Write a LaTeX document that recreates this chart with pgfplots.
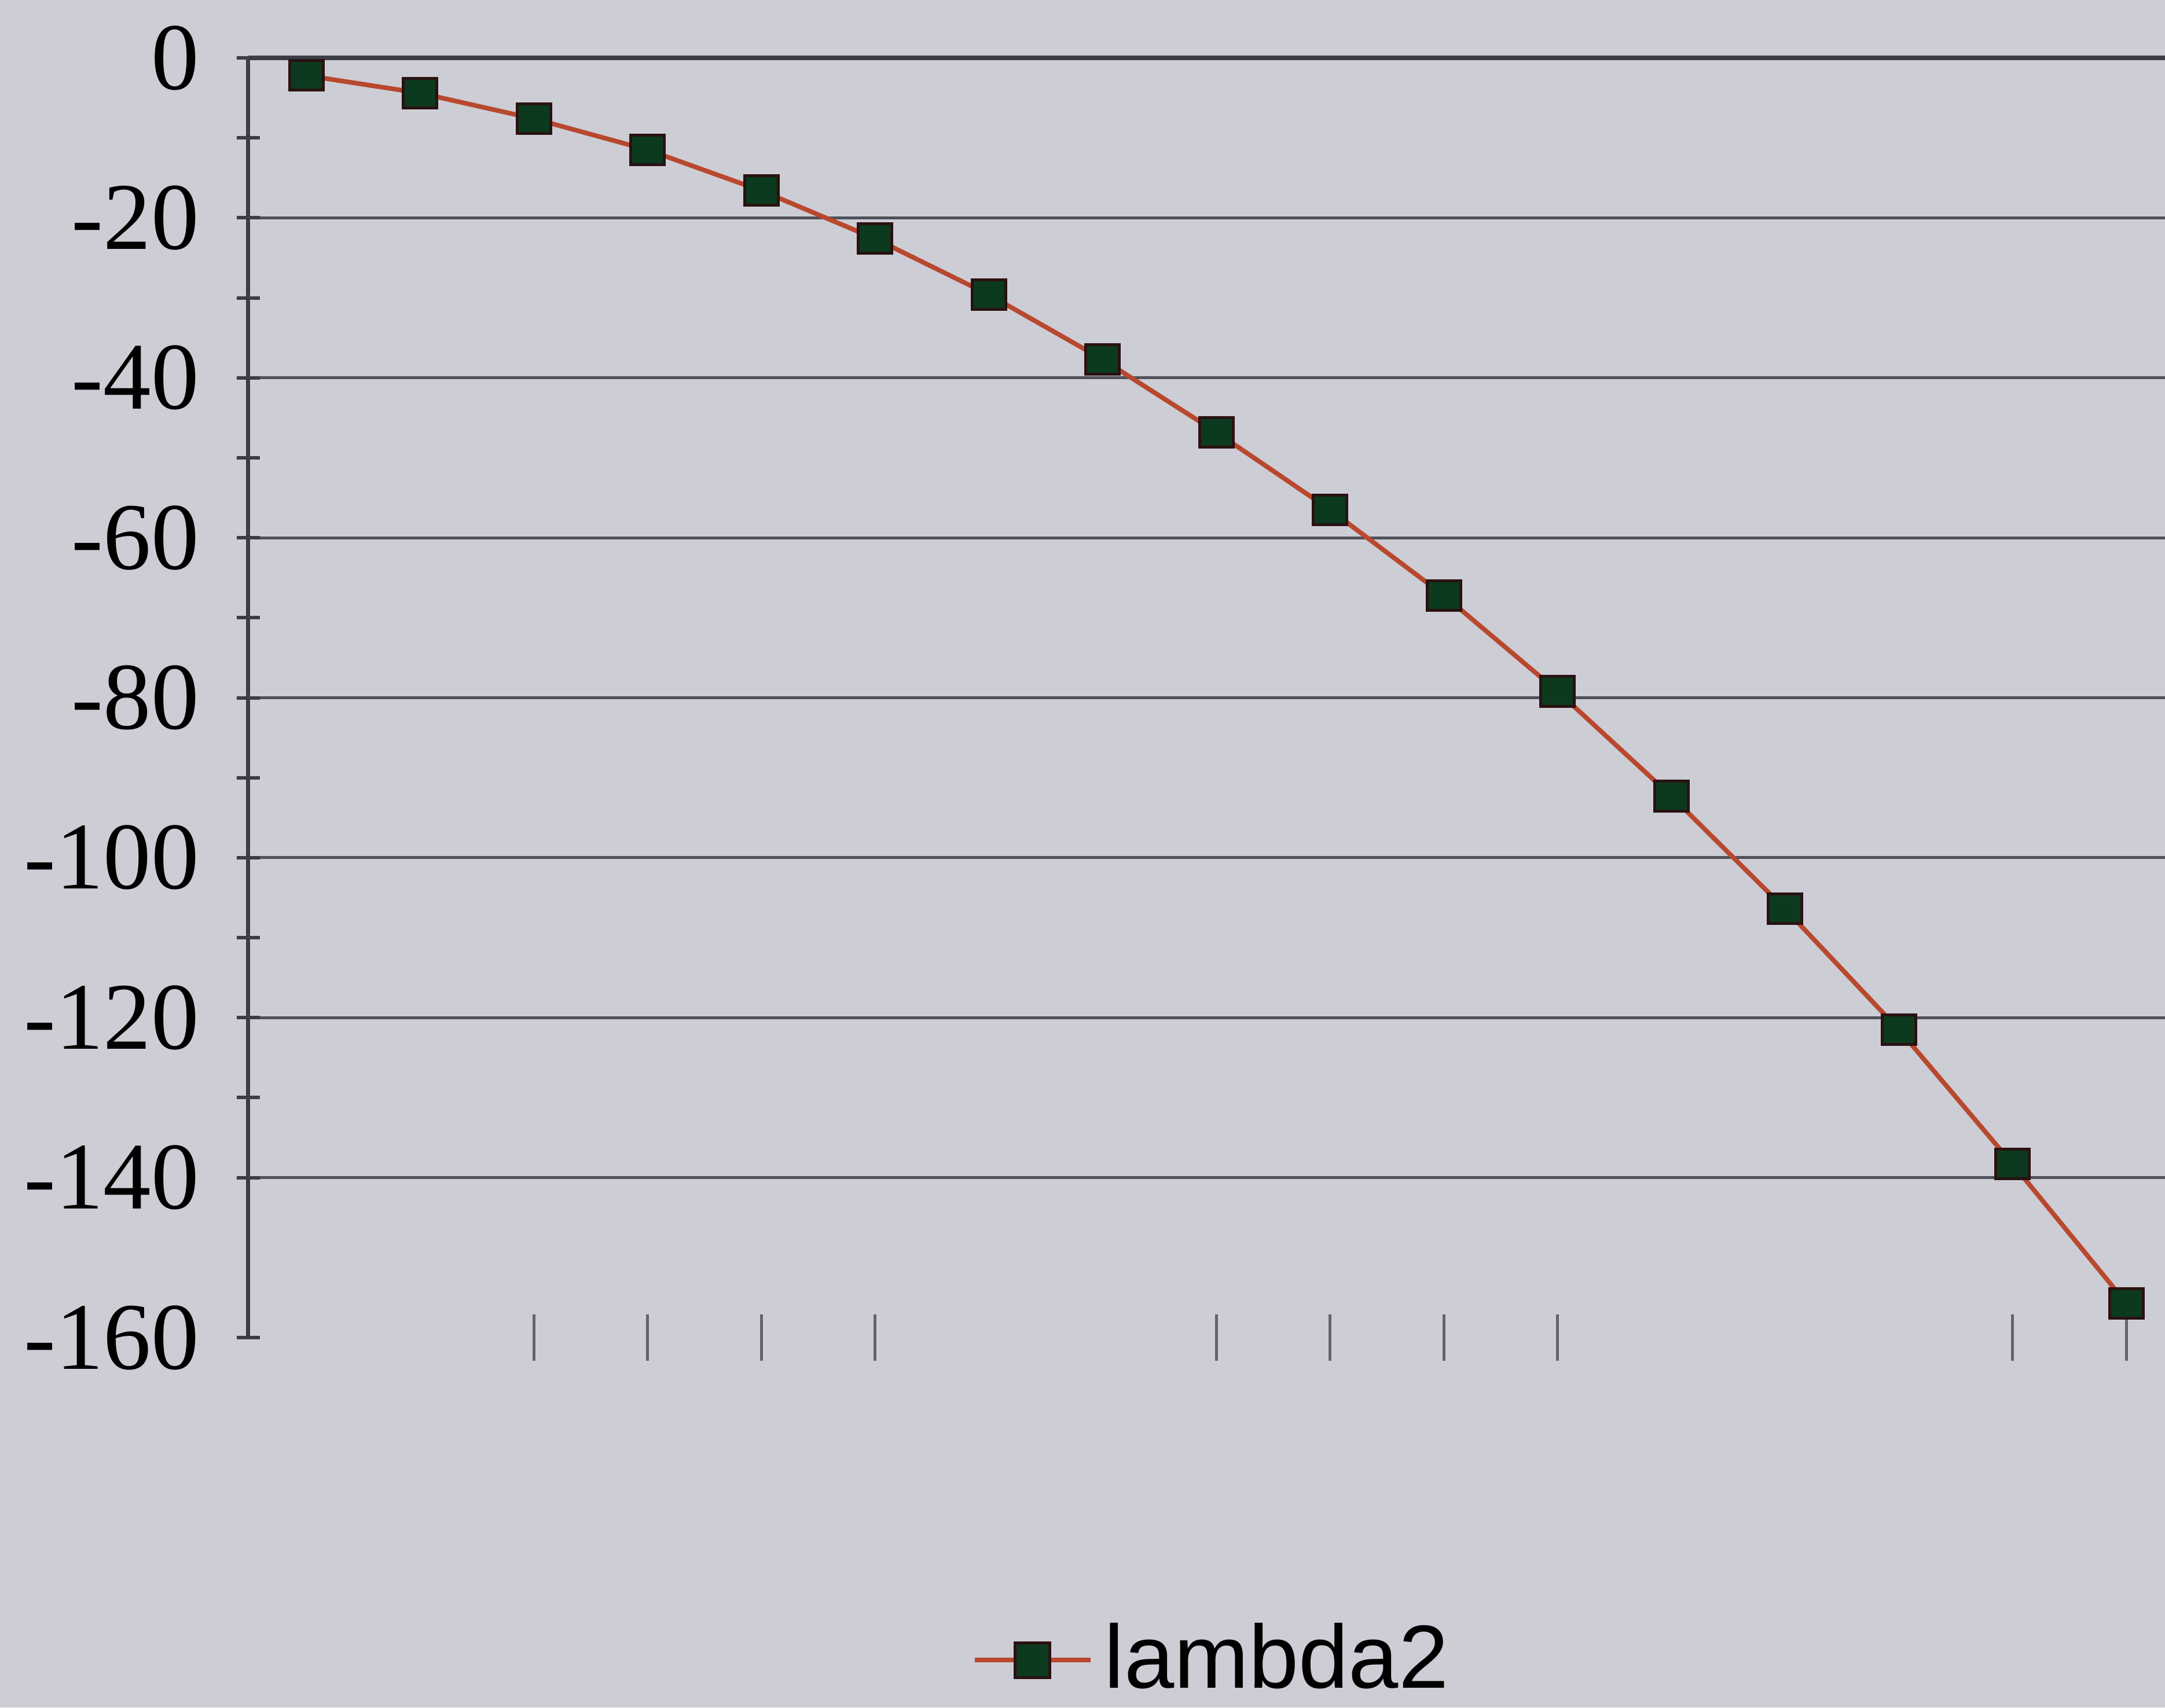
\documentclass[border=0pt]{standalone}
\usepackage{fontspec}
\setmainfont{Liberation Serif}
\newfontfamily\arial{Liberation Sans}
\usepackage{pgfplots}
\pgfplotsset{compat=1.18}
\definecolor{bg}{HTML}{CDCDD5}
\definecolor{linecol}{HTML}{B8482E}
\definecolor{markfill}{HTML}{0C3A1E}
\definecolor{markedge}{HTML}{2A1212}
\definecolor{gridcol}{HTML}{50505C}
\definecolor{axiscol}{HTML}{3C3C46}
\pgfplotstableread{
x y
0 -2.2
1 -4.4
2 -7.6
3 -11.5
4 -16.6
5 -22.6
6 -29.6
7 -37.7
8 -46.8
9 -56.5
10 -67.2
11 -79.2
12 -92.3
13 -106.4
14 -121.5
15 -138.3
16 -155.7
}\lambdatwo
\begin{document}
\begin{tikzpicture}
\useasboundingbox (-42.9pt,-63.9pt) rectangle (331.1pt,231.1pt);
\fill[bg] (-42.9pt,-63.9pt) rectangle (331.1pt,231.1pt);
\begin{axis}[
  at={(0pt,0pt)}, anchor=south west,
  scale only axis, width=331.1pt, height=221.1pt,
  xmin=-0.51, xmax=16.34, ymin=-160, ymax=0,
  clip=false,
  axis lines*=left,
  x axis line style={draw=none},
  y axis line style={axiscol, line width=0.7pt},
  ytick={0,-20,-40,-60,-80,-100,-120,-140},
  extra y ticks={-160},
  extra y tick style={grid=none},
  minor y tick num=1,
  ytick align=center,
  major tick length=4pt,
  minor tick length=4pt,
  ymajorgrids,
  grid style={gridcol, line width=0.5pt},
  y tick style={axiscol, line width=0.6pt},
  xtick={2,3,4,5,8,9,10,11,15,16},
  xticklabels={},
  xtick align=center,
  x tick style={gridcol!85!bg, line width=0.5pt, /pgfplots/major tick length=8pt},
  /pgf/number format/assume math mode=true,
  yticklabel style={font=\fontsize{16.5}{18}\selectfont, xshift=-3pt},
  legend style={at={(0.505,-0.252)}, anchor=center, draw=none, fill=none,
    font=\arial\fontsize{15.5}{18}\selectfont, inner sep=0pt},
  legend image code/.code={
    \draw[linecol, line width=0.8pt] (0pt,0pt) -- (20pt,0pt);
    \filldraw[fill=markfill, draw=markedge, line width=0.5pt] (7pt,-3pt) rectangle (13pt,3pt);
  },
]
\draw[axiscol, line width=0.8pt] (rel axis cs:0,1) -- (rel axis cs:1,1);
\addplot[linecol, line width=0.8pt, mark=square*, mark size=2.9pt,
  mark options={fill=markfill, draw=markedge, line width=0.5pt, yscale=0.88}]
  table[x=x, y=y] {\lambdatwo};
\addlegendentry{lambda2}
\end{axis}
\end{tikzpicture}
\end{document}
